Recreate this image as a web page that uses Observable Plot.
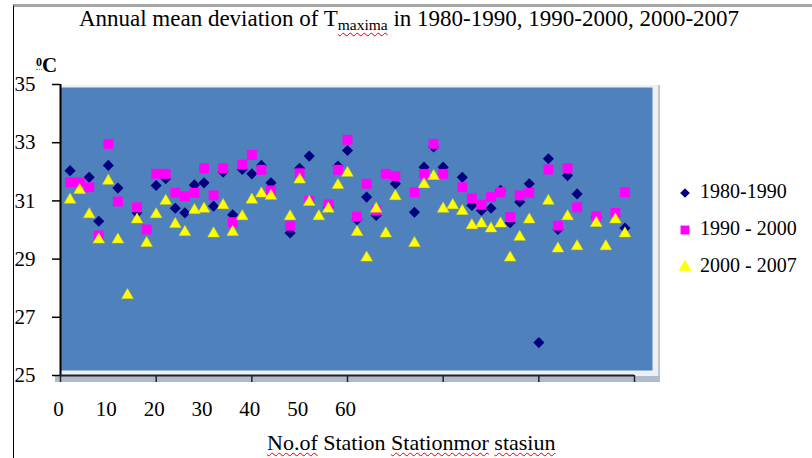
<!DOCTYPE html>
<html><head><meta charset="utf-8">
<script src="https://cdn.jsdelivr.net/npm/d3@7"></script>
<script src="https://cdn.jsdelivr.net/npm/@observablehq/plot@0.6"></script>
<style>
html,body{margin:0;padding:0;background:#fff;}
#wrap{position:relative;width:812px;height:458px;overflow:hidden;font-family:"Liberation Serif","Times New Roman",serif;color:#000;}
.abs{position:absolute;}
#frame{left:13px;top:4px;right:-5px;bottom:-5px;border-top:3px solid #a6a6a6;border-left:1.5px solid #000;}
#pa{left:60px;top:85px;width:598px;height:291px;background:#eceff3;border-right:2px solid #c4c4c4;}
#pb{left:55px;top:376px;width:605px;height:6px;background:#aebbcc;}
#title{left:0;width:818px;top:5px;text-align:center;font-size:23px;line-height:28px;white-space:nowrap;}
#title sub{font-size:15.5px;vertical-align:-4px;}
.wavy{text-decoration:underline wavy #e00000;text-decoration-thickness:1px;text-underline-offset:2px;}
#unit{left:36px;top:51px;font-size:21px;font-weight:bold;line-height:22px;}
#unit sup{font-size:12px;font-weight:bold;vertical-align:6px;border-bottom:1.5px dotted #e040e0;}
#xlab{left:267px;top:430px;font-size:22px;line-height:26px;white-space:nowrap;}
.leg{position:absolute;left:676px;font-size:20px;line-height:24px;white-space:nowrap;display:flex;align-items:center;}
.leg svg{margin-right:6px;}
#chart{position:absolute;left:0;top:0;}
</style>
</head><body>
<div id="wrap">
  <div id="frame" class="abs"></div>
  <div id="pa" class="abs"></div>
  <div id="pb" class="abs"></div>
  <div id="chart"></div>
  <div id="title" class="abs">Annual mean deviation of T<sub class="wavy">maxima</sub> in 1980-1990, 1990-2000, 2000-2007</div>
  <div id="unit" class="abs"><sup>0</sup>C</div>
  <div id="xlab" class="abs"><span class="wavy">No.of</span> Station <span class="wavy">Stationmor</span> <span class="wavy">stasiun</span></div>
  <div id="legend"></div>
</div>
<script>
// Station numbers
const stations = [1,2,3,4,5,6,7,8,9,10,11,12,13,14,15,16,17,18,19,20,21,22,23,24,25,26,27,28,29,30,31,32,33,34,35,36,37,38,39,40,41,42,43,44,45,46,47,48,49,50,51,52,53,54,55,56,57,58,59];
// 1980-1990 (diamonds)
const s1980 = [32.04,null,31.81,30.30,32.22,31.44,null,30.59,null,31.53,31.76,30.75,30.59,31.55,31.62,30.82,31.99,30.52,32.08,31.93,32.22,31.62,null,29.90,32.12,32.54,null,30.78,32.20,32.73,30.35,31.13,30.50,null,31.59,null,30.61,32.16,32.85,32.16,null,31.81,30.84,30.67,30.75,31.36,30.25,30.96,31.59,26.13,32.45,30.02,31.87,31.24,null,30.44,null,null,30.07];
// 1990 - 2000 (squares)
const s1990 = [31.64,31.64,31.47,29.81,32.96,30.98,null,30.78,30.02,31.93,31.93,31.28,31.16,31.28,32.12,31.19,32.12,30.27,32.25,32.58,32.07,31.36,null,30.15,31.95,31.01,null,30.88,32.07,33.10,30.46,31.59,30.67,31.93,31.85,null,31.30,31.93,32.96,31.93,null,31.47,31.09,30.87,31.13,31.30,30.44,31.19,31.28,null,32.08,30.15,32.12,30.78,null,30.47,null,30.59,31.30];
// 2000 - 2007 (triangles)
const s2000 = [31.09,31.42,30.59,29.72,31.74,29.72,27.81,30.41,29.60,30.59,31.05,30.25,29.98,30.73,30.78,29.93,30.90,29.98,30.52,31.09,31.30,31.22,null,30.52,31.78,31.01,30.52,30.78,31.59,32.01,29.98,29.10,30.78,29.93,31.21,null,29.60,31.62,31.90,30.78,30.90,30.70,30.21,30.27,30.10,30.27,29.10,29.81,30.41,null,31.05,29.41,30.52,29.49,null,30.29,29.49,30.41,29.93];
const seriesNames = ["1980-1990","1990 - 2000","2000 - 2007"];
const seriesColors = ["#000080","#ff00ff","#ffff00"];
const yTicks = [25,27,29,31,33,35];
const xTicks = [0,10,20,30,40,50,60];
const xTickLabels = [0,10,20,30,40,50,60];

const pts = vals => stations.map((s,i)=>({s, v: vals[i]})).filter(d => d.v != null);

const plot = Plot.plot({
  width: 812, height: 458,
  marginLeft: 60, marginTop: 87, marginRight: 160, marginBottom: 88,
  style: {background: "transparent", fontFamily: "Liberation Serif, Times New Roman, serif", color: "#000"},
  x: {domain: [0, 60], range: [60, 634]},
  y: {domain: [25, 35], range: [375, 84]},
  marks: [
    Plot.frame({fill: "#4f81bd", stroke: "none"}),
    Plot.ruleX([0], {y1: 25, y2: 35, stroke: "#000", strokeWidth: 2}),
    Plot.ruleY([25], {x1: 0, x2: 60, stroke: "#222", strokeWidth: 2}),
    Plot.axisY({ticks: yTicks, tickSize: 8, tickPadding: 17, tickFormat: d => String(d), fontSize: 21, label: null, stroke: "#000", strokeWidth: 1.5}),
    Plot.axisX({ticks: xTicks, tickSize: 7, tickFormat: () => "", dy: 5, label: null, stroke: "#222", strokeWidth: 1.5}),
    Plot.text(xTickLabels, {x: d => d / 2, y: 25, dy: 34, dx: -2, text: d => String(d), fontSize: 21}),
    Plot.dot(pts(s1980), {x: "s", y: "v", symbol: "diamond2", r: 5, fill: seriesColors[0], stroke: "none"}),
    Plot.dot(pts(s1990), {x: "s", y: "v", symbol: "square", r: 5.6, fill: seriesColors[1], stroke: "none"}),
    Plot.dot(pts(s2000), {x: "s", y: "v", symbol: "triangle", r: 4.3, dy: 1.5, fill: seriesColors[2], stroke: "#e8e000", strokeWidth: 0.5})
  ]
});
document.getElementById("chart").appendChild(plot);

// Legend
const legSymbols = [d3.symbolDiamond2, d3.symbolSquare, d3.symbolTriangle];
const legSizes = [60, 80, 70];
const legTops = [179, 216, 253];
const legend = document.getElementById("legend");
seriesNames.forEach((name, i) => {
  const div = document.createElement("div");
  div.className = "leg";
  div.style.top = legTops[i] + "px";
  const path = d3.symbol(legSymbols[i], legSizes[i])();
  div.innerHTML = `<svg width="18" height="18" viewBox="-9 -9 18 18"><path d="${path}" fill="${seriesColors[i]}" transform="translate(0,2)"/></svg><span>${name}</span>`;
  legend.appendChild(div);
});
</script>
</body></html>
